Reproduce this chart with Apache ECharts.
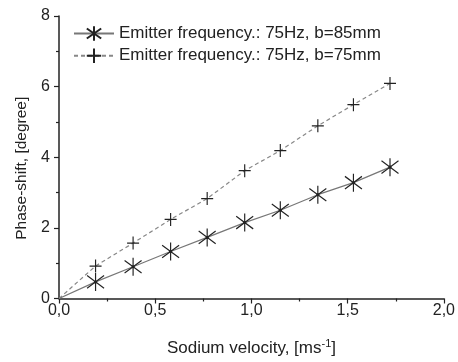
<!DOCTYPE html>
<html>
<head>
<meta charset="utf-8">
<script src="https://cdn.jsdelivr.net/npm/echarts@6/dist/echarts.min.js"></script>
<style>
  html, body { margin: 0; padding: 0; background: #fff; }
  #chart { width: 458px; height: 362px; }
</style>
</head>
<body>
<div id="chart"></div>
<script>
// Sodium velocity [m/s] at each measurement
const velocity = [0, 0.19, 0.385, 0.58, 0.77, 0.965, 1.15, 1.345, 1.53, 1.72];
// Phase shift [degree] for the two emitter spacings
const shiftB85 = [0, 0.47, 0.90, 1.33, 1.73, 2.15, 2.50, 2.94, 3.28, 3.72];
const shiftB75 = [0, 0.92, 1.57, 2.24, 2.83, 3.62, 4.19, 4.89, 5.49, 6.09];
const seriesNames = [
  'Emitter frequency.: 75Hz, b=85mm',
  'Emitter frequency.: 75Hz, b=75mm'
];

const starPath = 'path://M0,-10 L0,10 M-8,-7 L8,7 M-8,7 L8,-7 M-1,-1 L1,-1 L1,1 L-1,1 Z';
const plusPath = 'path://M-7,0 L7,0 M0,-7 L0,7';

function toPoints(ys) {
  return velocity.map((x, i) => i === 0
    ? { value: [x, ys[i]], symbol: 'none' }
    : [x, ys[i]]);
}

const font = 'Liberation Sans, Arial, sans-serif';
const chart = echarts.init(document.getElementById('chart'), null, { renderer: 'canvas' });

chart.setOption({
  animation: false,
  backgroundColor: '#fff',
  grid: { left: 59, right: 12, top: 16, bottom: 59, containLabel: false },
  legend: {
    left: 73, top: 25, orient: 'vertical', padding: 0,
    itemWidth: 40, itemHeight: 18, itemGap: 4,
    textStyle: { fontFamily: font, fontSize: 17, color: '#222', padding: [0, 0, 0, 0] },
    data: seriesNames
  },
  xAxis: {
    type: 'value', min: 0, max: 2, interval: 0.5,
    name: 'Sodium velocity, [ms{sup|-1}]',
    nameLocation: 'middle', nameGap: 40,
    nameTextStyle: {
      fontFamily: font, fontSize: 17, color: '#222',
      rich: { sup: { fontFamily: font, fontSize: 11, color: '#222', verticalAlign: 'top', padding: [0, 0, 9, 0] } }
    },
    axisLine: { lineStyle: { color: '#222', width: 1.5 } },
    axisTick: { inside: false, length: 5, lineStyle: { color: '#222', width: 1.2 } },
    minorTick: { show: true, splitNumber: 2, length: 3, lineStyle: { color: '#222', width: 1.2 } },
    splitLine: { show: false },
    axisLabel: {
      fontFamily: font, fontSize: 16, color: '#222', margin: 4,
      formatter: v => v.toFixed(1).replace('.', ',')
    }
  },
  yAxis: {
    type: 'value', min: 0, max: 8, interval: 2,
    name: 'Phase-shift, [degree]',
    nameLocation: 'middle', nameGap: 27,
    nameTextStyle: { fontFamily: font, fontSize: 15.5, color: '#222', padding: [0, 22, 0, 0] },
    axisLine: { show: true, lineStyle: { color: '#222', width: 1.5 } },
    axisTick: { show: true, inside: false, length: 5, lineStyle: { color: '#222', width: 1.2 } },
    minorTick: { show: true, splitNumber: 2, length: 3, lineStyle: { color: '#222', width: 1.2 } },
    splitLine: { show: false },
    axisLabel: { fontFamily: font, fontSize: 16, color: '#222', margin: 9 }
  },
  series: [
    {
      name: seriesNames[0], type: 'line',
      data: toPoints(shiftB85),
      symbol: starPath, symbolSize: [17, 18], showAllSymbol: true,
      lineStyle: { color: '#777', width: 1.2, type: 'solid' },
      itemStyle: { color: '#111', borderColor: '#222', borderWidth: 1.2 },
      z: 3
    },
    {
      name: seriesNames[1], type: 'line',
      data: toPoints(shiftB75),
      symbol: plusPath, symbolSize: [12, 13], showAllSymbol: true,
      lineStyle: { color: '#888', width: 1.2, type: [4, 3] },
      itemStyle: { color: 'none', borderColor: '#222', borderWidth: 1.2 },
      z: 2
    }
  ]
});
</script>
</body>
</html>
